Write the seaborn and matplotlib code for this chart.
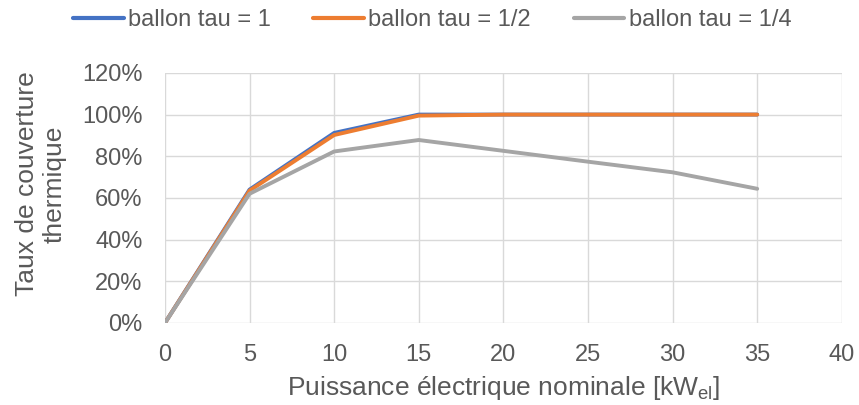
import matplotlib
matplotlib.use("Agg")
import matplotlib.pyplot as plt
import seaborn as sns
import pandas as pd
from matplotlib.ticker import PercentFormatter

# Thermal coverage rate vs nominal electrical power, for three storage tank sizes
puissance = [0, 5, 10, 15, 20, 25, 30, 35]
tau_1 = [0, 64, 91.2, 100, 100, 100, 100, 100]
tau_1_2 = [0, 63.5, 90.2, 99.5, 100, 100, 100, 100]
tau_1_4 = [0, 62, 82.3, 87.8, 82.6, 77.4, 72.3, 64.4]
series = ["ballon tau = 1", "ballon tau = 1/2", "ballon tau = 1/4"]
colors = ["#4472C4", "#ED7D31", "#A5A5A5"]

df = pd.DataFrame({
    "x": puissance * 3,
    "y": tau_1 + tau_1_2 + tau_1_4,
    "serie": [series[0]] * len(puissance) + [series[1]] * len(puissance) + [series[2]] * len(puissance),
})

sns.set_theme(style="white")
plt.rcParams["font.family"] = ["Liberation Sans", "DejaVu Sans"]
plt.rcParams["mathtext.fontset"] = "custom"
plt.rcParams["mathtext.rm"] = "Liberation Sans"
plt.rcParams["mathtext.it"] = "Liberation Sans"

text_color = "#595959"
grid_color = "#D9D9D9"

fig = plt.figure(figsize=(8.59, 4.05), dpi=100)
ax = fig.add_axes([0.192, 0.2025, 0.788, 0.6175])

sns.lineplot(data=df, x="x", y="y", hue="serie", hue_order=series,
             palette=colors, linewidth=2.8, ax=ax, legend=False, sort=False)

ax.set_xlim(0, 40)
ax.set_ylim(0, 120)
ax.set_xticks(range(0, 41, 5))
ax.set_yticks(range(0, 121, 20))
ax.yaxis.set_major_formatter(PercentFormatter(decimals=0))
ax.grid(True, color=grid_color, linewidth=1)
ax.set_axisbelow(True)
for s in ax.spines.values():
    s.set_visible(False)
ax.tick_params(axis="both", length=0, labelsize=17, colors=text_color)
ax.tick_params(axis="y", pad=16)
ax.tick_params(axis="x", pad=15)

ax.set_xlabel("Puissance électrique nominale [kW$_{\\mathrm{el}}$]",
              fontsize=19, color=text_color)
ax.xaxis.set_label_coords(0.5007, -0.205)
ax.set_ylabel("Taux de couverture\nthermique", fontsize=19,
              color=text_color, linespacing=1.2)
ax.yaxis.set_label_coords(-0.1448, 0.556)

handles = [plt.Line2D([], [], color=c, linewidth=3) for c in colors]
leg = fig.legend(handles, series, loc="center", bbox_to_anchor=(0.503, 0.951),
                 ncol=3, frameon=False, fontsize=17, handlelength=2.15,
                 handletextpad=0.18, columnspacing=1.8, borderpad=0)
for t in leg.get_texts():
    t.set_color(text_color)

fig.savefig("out.png", dpi=100)
